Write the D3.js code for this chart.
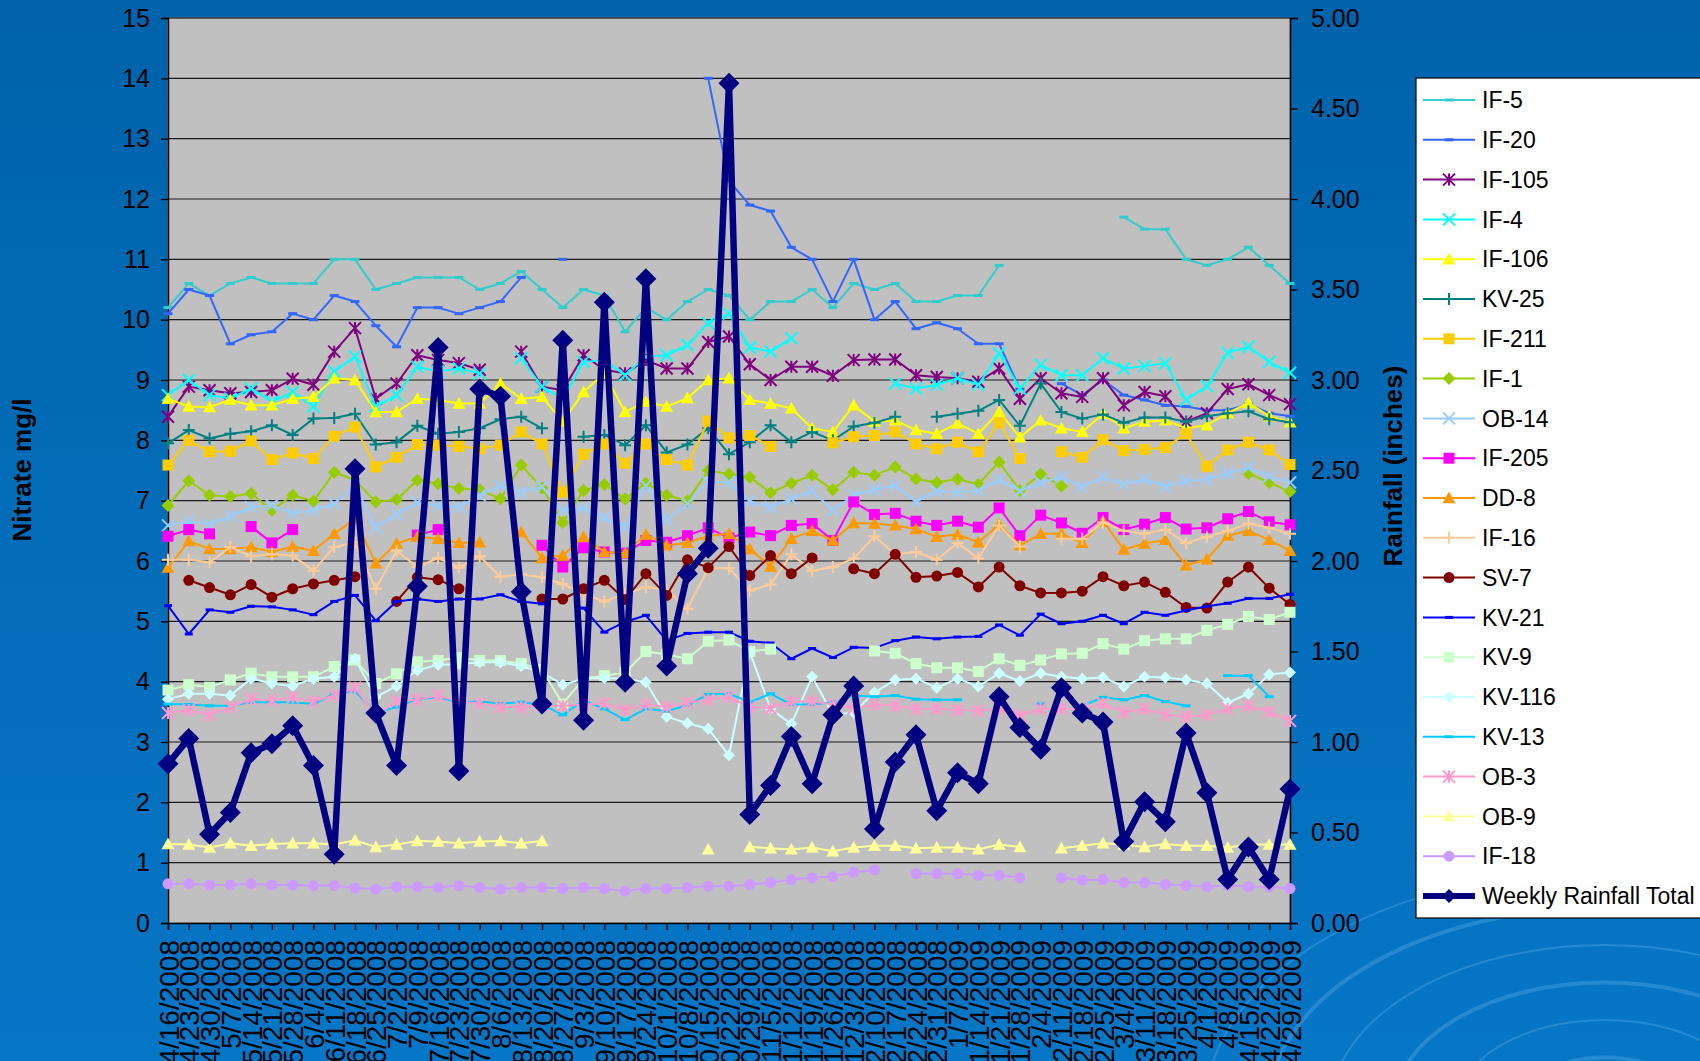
<!DOCTYPE html>
<html>
<head>
<meta charset="utf-8">
<script src="https://d3js.org/d3.v7.min.js"></script>
<style>
body { margin: 0; overflow: hidden; background: #0066b0; }
svg text { font-family: "Liberation Sans", Arial, sans-serif; fill: #000; }
</style>
</head>
<body>
<svg width="1700" height="1061"></svg>
<script>
// weekly sampling dates (x categories)
var dates = ["4/16/2008","4/23/2008","4/30/2008","5/7/2008","5/14/2008","5/21/2008","5/28/2008","6/4/2008","6/11/2008","6/18/2008",
  "6/25/2008","7/2/2008","7/9/2008","7/16/2008","7/23/2008","7/30/2008","8/6/2008","8/13/2008","8/20/2008","8/27/2008",
  "9/3/2008","9/10/2008","9/17/2008","9/24/2008","10/1/2008","10/8/2008","10/15/2008","10/22/2008","10/29/2008","11/5/2008",
  "11/12/2008","11/19/2008","11/26/2008","12/3/2008","12/10/2008","12/17/2008","12/24/2008","12/31/2008","1/7/2009","1/14/2009",
  "1/21/2009","1/28/2009","2/4/2009","2/11/2009","2/18/2009","2/25/2009","3/4/2009","3/11/2009","3/18/2009","3/25/2009",
  "4/1/2009","4/8/2009","4/15/2009","4/22/2009","4/29/2009"];

// nitrate mg/l per well
var if5 = [10.2,10.6,10.4,10.6,10.7,10.6,10.6,10.6,11.0,11.0,10.5,10.6,10.7,10.7,10.7,10.5,10.6,10.8,10.5,10.2,
  10.5,10.4,9.8,10.2,10.0,10.3,10.5,10.4,10.0,10.3,10.3,10.5,10.2,10.6,10.5,10.6,10.3,10.3,10.4,10.4,
  10.9,null,null,null,null,null,11.7,11.5,11.5,11.0,10.9,11.0,11.2,10.9,10.6];
var if20 = [10.1,10.5,10.4,9.6,9.75,9.8,10.1,10.0,10.4,10.3,9.9,9.55,10.2,10.2,10.1,10.2,10.3,10.7,null,11.0,
  null,null,null,null,null,null,14.0,12.3,11.9,11.8,11.2,11.0,10.3,11.0,10.0,10.3,9.85,9.95,9.85,9.6,
  9.6,8.85,null,8.94,8.75,9.0,8.75,8.67,8.58,8.56,8.5,8.5,8.6,8.45,8.4];
var if105 = [8.39,8.89,8.83,8.78,8.8,8.83,9.02,8.92,9.47,9.86,8.69,8.94,9.41,9.33,9.28,9.17,null,9.47,8.89,8.83,
  9.41,9.17,9.11,9.33,9.19,9.19,9.63,9.72,9.26,9.0,9.22,9.22,9.07,9.33,9.34,9.34,9.08,9.05,9.03,8.97,
  9.19,8.69,9.03,8.78,8.72,9.03,8.58,8.8,8.73,8.31,8.45,8.85,8.93,8.75,8.6];
var if4 = [8.75,9.0,8.75,8.69,8.86,8.64,8.8,8.56,9.14,9.39,8.56,8.75,9.22,9.14,9.19,9.11,null,9.36,8.89,8.69,
  9.3,9.33,9.08,9.39,9.41,9.58,9.94,10.1,9.54,9.47,9.69,null,null,null,null,8.94,8.86,8.92,9.03,8.92,
  9.44,8.86,9.25,9.08,9.08,9.36,9.19,9.23,9.28,8.67,8.9,9.45,9.55,9.3,9.12];
var if106 = [8.69,8.56,8.55,8.67,8.58,8.58,8.69,8.72,9.03,9.0,8.47,8.47,8.69,8.67,8.61,8.61,8.94,8.69,8.72,8.31,
  8.8,9.11,8.47,8.64,8.56,8.7,9.0,9.03,8.67,8.61,8.53,8.2,8.14,8.58,8.31,8.33,8.17,8.11,8.28,8.11,
  8.47,8.05,8.33,8.2,8.14,8.44,8.2,8.31,8.33,8.2,8.25,8.45,8.62,8.4,8.3];
var kv25 = [7.95,8.17,8.03,8.11,8.15,8.25,8.09,8.36,8.37,8.44,7.93,7.97,8.24,8.11,8.14,8.2,8.35,8.39,8.2,null,
  8.06,8.09,7.92,8.25,7.8,7.93,8.2,7.77,7.97,8.25,7.97,8.14,8.0,8.23,8.29,8.39,null,8.39,8.44,8.49,
  8.67,8.24,8.94,8.47,8.36,8.43,8.29,8.38,8.38,8.31,8.4,8.45,8.48,8.35,8.3];
var if211 = [7.59,8.0,7.81,7.82,7.99,7.68,7.79,7.7,8.07,8.22,7.56,7.72,7.93,7.92,7.9,7.86,7.92,8.14,7.94,7.14,
  7.77,7.94,7.62,7.94,7.68,7.59,8.32,8.04,8.08,7.9,null,null,7.96,8.06,8.08,8.14,7.94,7.86,7.97,7.81,
  8.29,7.7,null,7.81,7.72,8.01,7.83,7.85,7.88,8.11,7.57,7.84,7.97,7.84,7.6];
var if1 = [6.92,7.33,7.09,7.07,7.12,6.84,7.09,6.99,7.47,7.34,6.98,7.02,7.34,7.28,7.2,7.18,7.03,7.59,7.21,6.64,
  7.17,7.27,7.03,7.29,7.09,7.0,7.5,7.44,7.39,7.13,7.29,7.42,7.18,7.47,7.42,7.56,7.36,7.3,7.36,7.27,
  7.64,7.17,7.44,7.24,null,null,null,null,null,null,null,null,7.45,7.3,7.15];
var ob14 = [6.59,6.66,6.61,6.74,6.89,6.92,6.79,6.84,6.95,7.25,6.56,6.77,6.97,6.92,6.89,7.09,7.25,7.14,7.23,6.84,
  6.88,6.72,6.56,7.25,6.68,6.95,7.31,7.31,6.99,6.89,7.03,7.16,6.84,7.09,7.18,7.25,6.98,7.16,7.14,7.17,
  7.35,7.16,7.3,7.39,7.23,7.39,7.27,7.35,7.23,7.33,7.35,7.45,7.55,7.4,7.3];
var if205 = [6.41,6.52,6.45,null,6.57,6.3,6.52,null,null,null,null,null,6.43,6.52,null,null,null,null,6.26,5.9,
  6.22,6.15,6.13,6.34,6.31,6.42,6.55,6.38,6.48,6.42,6.59,6.62,6.34,6.98,6.77,6.79,6.66,6.59,6.66,6.56,
  6.88,6.42,6.76,6.63,6.46,6.72,6.52,6.61,6.72,6.53,6.55,6.7,6.82,6.65,6.6];
var dd8 = [5.89,6.33,6.2,6.2,6.23,6.15,6.24,6.17,6.45,6.7,5.96,6.29,6.4,6.37,6.3,6.31,null,6.48,6.05,6.09,
  6.4,6.15,6.13,6.44,6.26,6.3,6.42,6.45,6.2,5.91,6.37,6.5,6.34,6.63,6.62,6.59,6.53,6.4,6.44,6.31,
  6.61,6.26,6.45,6.45,6.3,6.66,6.19,6.29,6.35,5.93,6.03,6.42,6.5,6.35,6.17];
var if16 = [6.02,6.02,5.98,6.23,6.08,6.11,6.09,5.84,6.23,6.31,5.54,6.17,5.9,6.05,5.89,6.08,5.74,5.78,5.73,5.62,
  5.45,5.33,5.46,5.57,5.52,5.21,5.88,5.88,5.51,5.61,6.11,5.84,5.9,6.04,6.41,6.11,6.15,6.02,6.3,6.04,
  6.59,6.24,null,6.37,6.37,6.64,6.5,6.45,6.52,6.3,6.4,6.5,6.62,6.55,6.45];
var sv7 = [null,5.68,5.56,5.44,5.61,5.4,5.54,5.62,5.68,5.74,null,5.33,5.73,5.69,5.54,null,null,null,5.37,5.37,
  5.54,5.68,5.36,5.79,5.43,6.02,5.89,6.24,5.76,6.09,5.79,6.05,null,5.87,5.79,6.11,5.73,5.75,5.81,5.57,
  5.9,5.59,5.47,5.47,5.5,5.74,5.59,5.65,5.48,5.23,5.22,5.65,5.9,5.55,5.28];
var kv21 = [5.26,4.79,5.19,5.15,5.25,5.24,5.19,5.11,5.33,5.43,5.01,5.33,5.37,5.33,5.37,5.37,5.44,5.33,5.29,null,
  5.22,4.82,4.99,5.1,4.68,4.8,4.82,4.82,4.67,4.64,4.38,4.55,4.4,4.57,4.56,4.68,4.74,4.71,4.74,4.75,
  4.94,4.77,5.12,4.96,5.0,5.1,4.96,5.15,5.1,5.18,5.25,5.3,5.38,5.38,5.45];
var kv9 = [3.86,3.95,3.91,4.03,4.14,4.08,4.08,4.08,4.25,4.36,3.97,4.13,4.33,4.35,4.4,4.35,4.35,4.3,4.2,3.63,
  4.05,4.1,4.15,4.5,4.45,4.38,4.67,4.69,4.5,4.54,null,null,null,null,4.51,4.47,4.3,4.23,4.23,4.17,
  4.38,4.27,4.36,4.46,4.47,4.63,4.54,4.68,4.71,4.71,4.85,4.95,5.08,5.03,5.15];
var kv116 = [3.71,3.8,3.8,3.77,4.05,3.97,3.93,4.05,4.08,4.38,3.74,3.93,4.19,4.28,4.29,4.32,4.32,4.26,4.15,3.95,
  4.05,4.06,4.05,3.99,3.42,3.31,3.22,2.78,4.49,3.55,3.3,4.08,3.45,3.49,3.82,4.03,4.05,3.9,4.05,3.92,
  4.14,4.01,4.14,4.08,4.05,4.07,3.92,4.08,4.07,4.03,3.97,3.65,3.8,4.12,4.15];
var kv13 = [3.63,3.62,3.6,3.6,3.66,3.66,3.66,3.63,3.8,3.84,3.49,3.58,3.71,3.74,3.66,3.67,3.64,3.66,3.62,3.45,
  3.69,3.55,3.37,3.55,3.51,3.61,3.79,3.8,3.66,3.8,3.62,3.62,3.66,3.77,3.75,3.77,3.71,3.7,3.7,null,
  null,null,3.63,null,3.6,3.74,3.7,3.77,3.67,3.6,null,4.1,4.1,3.75,null];
var ob3 = [3.48,3.53,3.45,3.58,3.71,3.69,3.74,3.67,3.77,3.9,3.44,3.67,3.7,3.77,3.67,3.64,3.58,3.58,3.6,3.6,
  3.62,3.64,3.53,3.62,3.58,3.65,3.7,3.75,3.58,3.56,3.67,3.67,3.62,3.56,3.62,3.6,3.55,3.55,3.53,3.52,
  3.55,3.44,3.55,3.55,3.55,3.64,3.49,3.55,3.45,3.42,3.45,3.55,3.6,3.5,3.35];
var ob9 = [1.31,1.3,1.25,1.32,1.28,1.31,1.32,1.32,1.3,1.37,1.26,1.3,1.36,1.35,1.32,1.35,1.36,1.32,1.36,null,
  null,null,null,null,null,null,1.22,null,1.26,1.24,1.22,1.25,1.19,1.25,1.28,1.28,1.24,1.25,1.25,1.22,
  1.3,1.26,null,1.24,1.28,1.32,1.3,1.26,1.31,1.28,1.28,1.25,1.3,1.3,1.3];
var if18 = [0.65,0.65,0.63,0.63,0.65,0.63,0.63,0.62,0.62,0.58,0.56,0.6,0.6,0.59,0.62,0.59,0.56,0.59,0.59,0.57,
  0.59,0.57,0.53,0.57,0.57,0.59,0.61,0.61,0.64,0.67,0.72,0.75,0.77,0.84,0.88,null,0.82,0.82,0.82,0.79,
  0.79,0.75,null,0.75,0.71,0.72,0.67,0.67,0.64,0.62,0.6,0.62,0.6,0.6,0.57];

// weekly rainfall total, inches (right axis)
var rainfall = [0.88,1.02,0.49,0.61,0.94,0.99,1.09,0.87,0.38,2.51,1.16,0.87,1.86,3.18,0.84,2.95,2.91,1.83,1.21,3.22,
  1.12,3.43,1.33,3.56,1.42,1.93,2.07,4.64,0.60,0.76,1.03,0.77,1.15,1.31,0.52,0.89,1.04,0.62,0.83,0.77,
  1.25,1.08,0.96,1.30,1.16,1.11,0.45,0.67,0.56,1.05,0.72,0.24,0.42,0.24,0.74];

var nitrateTicks = [0,1,2,3,4,5,6,7,8,9,10,11,12,13,14,15];
var rainTicks = [0,0.5,1,1.5,2,2.5,3,3.5,4,4.5,5];

// series table: name, values, then style
var series = [
  {name: "IF-5",   values: if5,   color: "#33cccc", marker: "dash",     size: 4.5},
  {name: "IF-20",  values: if20,  color: "#3366ff", marker: "dash",     size: 4.5},
  {name: "IF-105", values: if105, color: "#800080", marker: "asterisk", size: 6},
  {name: "IF-4",   values: if4,   color: "#00ffff", marker: "x",        size: 6},
  {name: "IF-106", values: if106, color: "#ffff00", marker: "triangle", size: 6.5},
  {name: "KV-25",  values: kv25,  color: "#008080", marker: "plus",     size: 6},
  {name: "IF-211", values: if211, color: "#ffcc00", marker: "square",   size: 5.5},
  {name: "IF-1",   values: if1,   color: "#99cc00", marker: "diamond",  size: 6.5},
  {name: "OB-14",  values: ob14,  color: "#99ccff", marker: "x",        size: 6},
  {name: "IF-205", values: if205, color: "#ff00ff", marker: "square",   size: 5.5},
  {name: "DD-8",   values: dd8,   color: "#ff9900", marker: "triangle", size: 6.5},
  {name: "IF-16",  values: if16,  color: "#ffcc99", marker: "plus",     size: 6},
  {name: "SV-7",   values: sv7,   color: "#800000", marker: "circle",   size: 5.5},
  {name: "KV-21",  values: kv21,  color: "#0000ff", marker: "dash",     size: 4},
  {name: "KV-9",   values: kv9,   color: "#ccffcc", marker: "square",   size: 5.5},
  {name: "KV-116", values: kv116, color: "#ccffff", marker: "diamond",  size: 6},
  {name: "KV-13",  values: kv13,  color: "#00ccff", marker: "dash",     size: 4.5},
  {name: "OB-3",   values: ob3,   color: "#ff99cc", marker: "asterisk", size: 6},
  {name: "OB-9",   values: ob9,   color: "#ffff99", marker: "triangle", size: 6.5},
  {name: "IF-18",  values: if18,  color: "#cc99ff", marker: "circle",   size: 5.5}
];

var svg = d3.select("svg");
var plotLeft = 168, plotRight = 1290, plotTop = 18, plotBottom = 923;

// background
var defs = svg.append("defs");
var grad = defs.append("linearGradient").attr("id", "bg").attr("x1", 0).attr("y1", 0).attr("x2", 0).attr("y2", 1);
grad.append("stop").attr("offset", "0%").attr("stop-color", "#0063ab");
grad.append("stop").attr("offset", "100%").attr("stop-color", "#0676c6");
svg.append("rect").attr("width", 1700).attr("height", 1061).attr("fill", "url(#bg)");
// decorative swirl, bottom right
[70, 120, 170, 220, 270, 320].forEach(function (r, i) {
  svg.append("ellipse")
    .attr("cx", 1605).attr("cy", 1110)
    .attr("rx", r * 1.25).attr("ry", r * 0.75)
    .attr("fill", "none")
    .attr("stroke", "rgba(110,185,240,0.3)")
    .attr("stroke-width", i % 2 ? 2 : 4);
});

var x = d3.scalePoint().domain(dates).range([plotLeft, plotRight]);
var yL = d3.scaleLinear().domain([0, 15]).range([plotBottom, plotTop]);
var yR = d3.scaleLinear().domain([0, 5]).range([plotBottom, plotTop]);

// plot area
svg.append("rect").attr("x", plotLeft).attr("y", plotTop)
  .attr("width", plotRight - plotLeft).attr("height", plotBottom - plotTop)
  .attr("fill", "#c0c0c0").attr("stroke", "#808080").attr("stroke-width", 1);

svg.append("g").selectAll("line").data(nitrateTicks.slice(1)).enter().append("line")
  .attr("x1", plotLeft).attr("x2", plotRight)
  .attr("y1", function (d) { return yL(d); }).attr("y2", function (d) { return yL(d); })
  .attr("stroke", "#1a1a1a").attr("stroke-width", 1.2);

// axes
var axL = svg.append("g").attr("transform", "translate(" + plotLeft + ",0)")
  .call(d3.axisLeft(yL).tickValues(nitrateTicks).tickSize(7).tickPadding(11));
var axR = svg.append("g").attr("transform", "translate(" + plotRight + ",0)")
  .call(d3.axisRight(yR).tickValues(rainTicks).tickFormat(d3.format(".2f")).tickSize(8).tickPadding(13));
var axB = svg.append("g").attr("transform", "translate(0," + plotBottom + ")")
  .call(d3.axisBottom(x).tickSize(7));
[axL, axR, axB].forEach(function (a) {
  a.select(".domain").attr("stroke", "#000").attr("stroke-width", 1.5);
  a.selectAll(".tick line").attr("stroke", "#000").attr("stroke-width", 1.3);
  a.selectAll("text").attr("font-size", 25).attr("fill", "#000")
    .attr("font-family", "'Liberation Sans', Arial, sans-serif");
});
axB.selectAll("text")
  .attr("transform", "rotate(-90)")
  .attr("text-anchor", "end")
  .attr("x", -17).attr("y", 0).attr("dy", "0.36em")
  .attr("font-size", 28);

// axis titles
svg.append("text").attr("transform", "translate(31,470) rotate(-90)")
  .attr("text-anchor", "middle").attr("font-size", 26).attr("font-weight", "bold").text("Nitrate mg/l");
svg.append("text").attr("transform", "translate(1402,466) rotate(-90)")
  .attr("text-anchor", "middle").attr("font-size", 26).attr("font-weight", "bold").text("Rainfall (inches)");

// marker shapes
var filled = {square: 1, diamond: 1, triangle: 1, circle: 1};
function markerPath(type, s) {
  var p = d3.path();
  if (type == "square") { p.rect(-s, -s, 2 * s, 2 * s); }
  else if (type == "diamond") { p.moveTo(0, -s); p.lineTo(s, 0); p.lineTo(0, s); p.lineTo(-s, 0); p.closePath(); }
  else if (type == "triangle") { p.moveTo(0, -s); p.lineTo(s, s * 0.8); p.lineTo(-s, s * 0.8); p.closePath(); }
  else if (type == "circle") { p.moveTo(s, 0); p.arc(0, 0, s, 0, 2 * Math.PI); }
  else if (type == "dash") { p.moveTo(-s, 0); p.lineTo(s, 0); }
  else if (type == "plus") { p.moveTo(-s, 0); p.lineTo(s, 0); p.moveTo(0, -s); p.lineTo(0, s); }
  else if (type == "x") { p.moveTo(-s, -s); p.lineTo(s, s); p.moveTo(-s, s); p.lineTo(s, -s); }
  else if (type == "asterisk") {
    p.moveTo(-s, -s); p.lineTo(s, s); p.moveTo(-s, s); p.lineTo(s, -s); p.moveTo(0, -s); p.lineTo(0, s);
  }
  return p.toString();
}
function styleMarker(sel, s) {
  if (filled[s.marker]) {
    sel.attr("fill", s.color).attr("stroke", "none");
  } else {
    sel.attr("fill", "none").attr("stroke", s.color).attr("stroke-width", s.marker == "dash" ? 3 : 2);
  }
}

var lineL = d3.line()
  .defined(function (d) { return d != null; })
  .x(function (d, i) { return x(dates[i]); })
  .y(function (d) { return yL(d); });

series.forEach(function (s) {
  var g = svg.append("g");
  g.append("path").attr("d", lineL(s.values))
    .attr("fill", "none").attr("stroke", s.color).attr("stroke-width", 2).attr("stroke-linejoin", "round");
  var pts = s.values.map(function (v, i) { return {v: v, i: i}; }).filter(function (d) { return d.v != null; });
  g.selectAll("path.m").data(pts).enter().append("path").attr("class", "m")
    .attr("d", markerPath(s.marker, s.size))
    .attr("transform", function (d) { return "translate(" + x(dates[d.i]) + "," + yL(d.v) + ")"; })
    .call(styleMarker, s);
});

// rainfall on the secondary axis
var lineR = d3.line()
  .x(function (d, i) { return x(dates[i]); })
  .y(function (d) { return yR(d); });
svg.append("path").attr("d", lineR(rainfall))
  .attr("fill", "none").attr("stroke", "#000080").attr("stroke-width", 6.5).attr("stroke-linejoin", "round");
svg.append("g").selectAll("path").data(rainfall).enter().append("path")
  .attr("d", markerPath("diamond", 10.5))
  .attr("transform", function (d, i) { return "translate(" + x(dates[i]) + "," + yR(d) + ")"; })
  .attr("fill", "#000080");

// legend
var legend = svg.append("g");
legend.append("rect").attr("x", 1416).attr("y", 78).attr("width", 320).attr("height", 840)
  .attr("fill", "#fff").attr("stroke", "#000").attr("stroke-width", 1.2);
var legItems = series.concat([{name: "Weekly Rainfall Total", color: "#000080", marker: "diamond", size: 7, rain: true}]);
legItems.forEach(function (s, i) {
  var yy = 100 + i * 39.8;
  legend.append("line").attr("x1", 1423).attr("x2", 1475).attr("y1", yy).attr("y2", yy)
    .attr("stroke", s.color).attr("stroke-width", s.rain ? 6 : 2);
  legend.append("path").attr("d", markerPath(s.marker, s.rain ? 7 : s.size))
    .attr("transform", "translate(1449," + yy + ")")
    .call(styleMarker, s);
  legend.append("text").attr("x", 1482).attr("y", yy).attr("dy", "0.36em")
    .attr("font-size", 23).text(s.name);
});
</script>
</body>
</html>
